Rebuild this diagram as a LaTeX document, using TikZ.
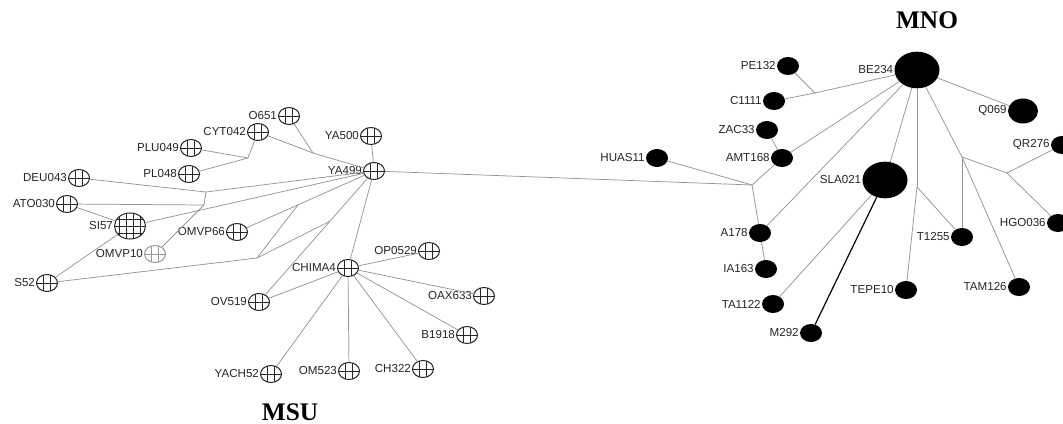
\documentclass[tikz,border=0pt]{standalone}
\usepackage{fontspec}
\newfontfamily\lblfont{Liberation Sans}
\newfontfamily\ttlfont{Liberation Serif}
\usetikzlibrary{shapes.geometric,calc}
\begin{document}
\begin{tikzpicture}[x=0.75pt,y=-0.75pt,
  edge/.style={draw=black!42, line width=0.55pt},
  darkedge/.style={draw=black, line width=0.9pt},
  lbl/.style={font=\lblfont\fontsize{8.7}{9}\selectfont, text=black!85, inner sep=0.6pt},
  ttl/.style={font=\ttlfont\bfseries\fontsize{19}{20}\selectfont, text=black},
  gridcol/.store in=\gridcol, gridcol=black!85,
  xnode/.style={ellipse, draw=black!85, fill=white, line width=0.75pt, inner sep=0pt,
    minimum width=15.75pt, minimum height=12.75pt,
    path picture={
      \foreach \d in {-2.6pt,2.6pt}{\draw[\gridcol, line width=0.45pt] ([xshift=\d]path picture bounding box.south) -- ([xshift=\d]path picture bounding box.north);}
      \draw[\gridcol, line width=0.45pt] (path picture bounding box.west) -- (path picture bounding box.east);}},
  bignode/.style={ellipse, draw=black!85, fill=white, line width=0.75pt, inner sep=0pt,
    minimum width=23.25pt, minimum height=19.5pt,
    path picture={
      \foreach \d in {-7.9pt,-2.6pt,2.6pt,7.9pt}{\draw[black!85, line width=0.45pt] ([xshift=\d]path picture bounding box.south) -- ([xshift=\d]path picture bounding box.north);}
      \foreach \d in {-5.25pt,0pt,5.25pt}{\draw[black!85, line width=0.45pt] ([yshift=\d]path picture bounding box.west) -- ([yshift=\d]path picture bounding box.east);}}},
  fadenode/.style={xnode, draw=black!40, gridcol=black!40},
  bn/.style={ellipse, fill=black, inner sep=0pt, minimum width=16.5pt, minimum height=13.5pt},
  bnmid/.style={bn, minimum width=22.5pt, minimum height=18.75pt},
  bnbig/.style={bn, minimum width=33.75pt, minimum height=27.5pt}
]
\fill[white] (0,0) rectangle (1063,424);
\useasboundingbox (0,0) rectangle (1063,424);

% ---------- MSU cluster ----------
\node[xnode, label={[lbl]left:O651}] (o651) at (289,116) {};
\node[xnode, label={[lbl]left:CYT042}] (cyt042) at (258,132) {};
\node[xnode, label={[lbl]left:PLU049}] (plu049) at (191,148) {};
\node[xnode, label={[lbl]left:PL048}] (pl048) at (189,174) {};
\node[xnode, label={[lbl]left:DEU043}] (deu043) at (79,178) {};
\node[xnode, label={[lbl]left:ATO030}] (ato030) at (67,204) {};
\node[bignode, label={[lbl]left:SI57}] (si57) at (130,226) {};
\node[fadenode, label={[lbl]left:OMVP10}] (omvp10) at (155,254) {};
\node[xnode, label={[lbl]left:OMVP66}] (omvp66) at (237,232) {};
\node[xnode, label={[lbl]left:YA500}] (ya500) at (371,136) {};
\node[xnode, label={[lbl]left:YA499}] (ya499) at (374,171) {};
\node[xnode, label={[lbl]left:CHIMA4}] (chima4) at (348,268) {};
\node[xnode, label={[lbl]left:S52}] (s52) at (47,283) {};
\node[xnode, label={[lbl]left:OP0529}] (op0529) at (429,251) {};
\node[xnode, label={[lbl]left:OAX633}] (oax633) at (484,296) {};
\node[xnode, label={[lbl]left:OV519}] (ov519) at (259,302) {};
\node[xnode, label={[lbl]left:B1918}] (b1918) at (467,335) {};
\node[xnode, label={[lbl]left:YACH52}] (yach52) at (271,374) {};
\node[xnode, label={[lbl]left:OM523}] (om523) at (349,371) {};
\node[xnode, label={[lbl]left:CH322}] (ch322) at (423,369) {};
\node[ttl] (msu) at (290,412) {MSU};

\coordinate (jA) at (313,153);
\coordinate (jB) at (248,158);
\coordinate (jC) at (206,192);
\coordinate (jD) at (204,205);
\coordinate (jE) at (257,258);
\coordinate (pOm) at ($(omvp66)!0.445!(ya499)$);
\coordinate (pOv) at ($(ya499)!0.383!(ov519)$);

% ---------- MNO cluster ----------
\node[ttl] (mno) at (927,20) {MNO};
\node[bn, label={[lbl]left:PE132}] (pe132) at (788,66) {};
\node[bnbig, label={[lbl]left:BE234}] (be234) at (917,70) {};
\node[bn, label={[lbl]left:C1111}] (c1111) at (774,101) {};
\node[bnmid, label={[lbl]left:Q069}] (q069) at (1023,111) {};
\node[bn, label={[lbl]left:ZAC33}] (zac33) at (767,130) {};
\node[bn, label={[lbl]left:AMT168}] (amt168) at (782,158) {};
\node[bn, label={[lbl]left:HUAS11}] (huas11) at (657,158) {};
\node[bn, label={[lbl]left:QR276}] (qr276) at (1062,145) {};
\node[bnbig, label={[lbl]left:SLA021}] (sla021) at (885,180) {};
\node[bn, label={[lbl]left:A178}] (a178) at (760,233) {};
\node[bn, label={[lbl]left:IA163}] (ia163) at (766,269) {};
\node[bn, label={[lbl]left:TA1122}] (ta1122) at (773,304) {};
\node[bn, label={[lbl]left:M292}] (m292) at (811,333) {};
\node[bn, label={[lbl]left:TEPE10}] (tepe10) at (906,290) {};
\node[bn, label={[lbl]left:T1255}] (t1255) at (962,237) {};
\node[bn, label={[lbl]left:TAM126}] (tam126) at (1019,287) {};
\node[bn, label={[lbl]left:HGO036}] (hgo036) at (1058,223) {};

\coordinate (k1) at (752,185);
\coordinate (k2) at (815,93);
\coordinate (k3) at (917,187);
\coordinate (k4) at (962,157);
\coordinate (k5) at (1007,173);

% ---------- edges ----------
\begin{scope}[edge]
\draw (ya500) -- (ya499);
\draw (ya499) -- (chima4);
\draw (ya499) -- (jA);
\draw (jA) -- (o651);
\draw (jA) -- (cyt042);
\draw (cyt042) -- (jB);
\draw (jB) -- (plu049);
\draw (jB) -- (pl048);
\draw (ya499) -- (jC);
\draw (jC) -- (deu043);
\draw (jC) -- (jD);
\draw (jD) -- (ato030);
\draw (jD) -- (omvp10);
\draw (ya499) -- (si57);
\draw (ato030) -- (si57);
\draw (si57) -- (s52);
\draw (ya499) -- (omvp66);
\draw (ya499) -- (ov519);
\draw (jE) -- (s52);
\draw (jE) -- (pOm);
\draw (jE) -- (pOv);
\draw (chima4) -- (op0529);
\draw (chima4) -- (oax633);
\draw (chima4) -- (b1918);
\draw (chima4) -- (ch322);
\draw (chima4) -- (om523);
\draw (chima4) -- (yach52);
\draw (chima4) -- (ov519);
\draw (ya499) -- (k1);
\draw (k1) -- (huas11);
\draw (k1) -- (amt168);
\draw (k1) -- (a178);
\draw (a178) -- (ia163);
\draw (a178) -- (be234);
\draw (amt168) -- (be234);
\draw (amt168) -- (zac33);
\draw (be234) -- (k2);
\draw (k2) -- (pe132);
\draw (k2) -- (c1111);
\draw (be234) -- (q069);
\draw (be234) -- (sla021);
\draw (sla021) -- (ta1122);
\draw (be234) -- (k3);
\draw (k3) -- (tepe10);
\draw (k3) -- (t1255);
\draw (be234) -- (k4);
\draw (k4) -- (t1255);
\draw (k4) -- (tam126);
\draw (k4) -- (k5);
\draw (k5) -- (qr276);
\draw (k5) -- (hgo036);
\end{scope}
\draw[darkedge] (sla021) -- (m292);
\end{tikzpicture}
\end{document}
